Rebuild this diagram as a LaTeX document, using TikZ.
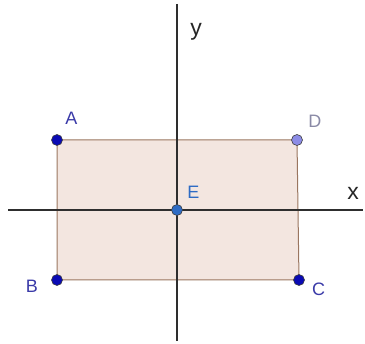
\documentclass[tikz,border=0pt]{standalone}
\usepackage{fontspec}
\setmainfont{Liberation Sans}
\usetikzlibrary{positioning}
\definecolor{axisgray}{HTML}{2E2E2E}
\definecolor{rectfill}{HTML}{F3E6E0}
\definecolor{rectedge}{HTML}{9A7660}
\definecolor{pointblue}{HTML}{0A0AB4}
\definecolor{pointlilac}{HTML}{8C8CE6}
\definecolor{pointmid}{HTML}{2E6BC4}
\definecolor{labelblue}{HTML}{3A3AA8}
\definecolor{labelgray}{HTML}{8A8AA6}
\tikzset{
  pt/.style={circle,draw=black!75,fill=pointblue,line width=0.6pt,
    inner sep=0pt,minimum size=11pt},
  ptlabel/.style={font=\fontsize{18}{18}\selectfont,text=labelblue,inner sep=0pt},
  axisline/.style={draw=axisgray,line width=1.4pt},
  axislabel/.style={font=\fontsize{23}{23}\selectfont,text=black!85,inner sep=0pt}
}

\begin{document}
\begin{tikzpicture}[x=1pt,y=-1pt]
\useasboundingbox (0,0) rectangle (365,344);
% corners of the rectangle and the origin
\coordinate (a) at (57,140);
\coordinate (b) at (57,280);
\coordinate (c) at (299,280);
\coordinate (d) at (297,140);
\coordinate (e) at (177,210);
% axis ends
\coordinate (xl) at (8,210);
\coordinate (xr) at (363,210);
\coordinate (yt) at (177,4);
\coordinate (yb) at (177,341);
\draw[fill=rectfill,draw=rectedge,line width=1pt] (a) -- (d) -- (c) -- (b) -- cycle;
\draw[axisline] (xl) -- (xr);
\draw[axisline] (yt) -- (yb);
\node[axislabel] (xlab) at (353,193) {x};
\node[axislabel] (ylab) at (196,32) {y};
% points
\node[pt] (A) at (a) {};
\node[pt] (B) at (b) {};
\node[pt] (C) at (c) {};
\node[pt,fill=pointlilac] (D) at (d) {};
\node[pt,fill=pointmid] (E) at (e) {};
\node[ptlabel,above right=11pt and 4pt of A] (Alab) {A};
\node[ptlabel,left=13pt of B,yshift=-6pt] (Blab) {B};
\node[ptlabel,right=7pt of C,yshift=-9pt] (Clab) {C};
\node[ptlabel,text=labelgray,above right=8pt and 7pt of D] (Dlab) {D};
\node[ptlabel,text=pointmid,above right=7pt and 6pt of E] (Elab) {E};
\end{tikzpicture}
\end{document}
